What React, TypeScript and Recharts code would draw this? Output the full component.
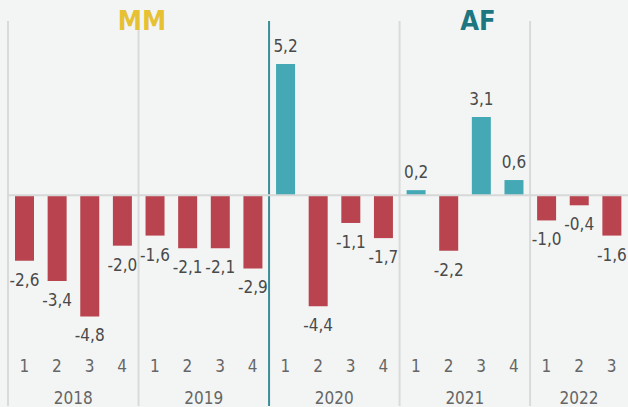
import { BarChart, Bar, XAxis, YAxis, Cell, ReferenceLine, LabelList } from "recharts";

const years = ["2018", "2018", "2018", "2018", "2019", "2019", "2019", "2019", "2020", "2020", "2020", "2020", "2021", "2021", "2021", "2021", "2022", "2022", "2022"];
const quarters = ["1", "2", "3", "4", "1", "2", "3", "4", "1", "2", "3", "4", "1", "2", "3", "4", "1", "2", "3"];
const values = [-2.6, -3.4, -4.8, -2.0, -1.6, -2.1, -2.1, -2.9, 5.2, -4.4, -1.1, -1.7, 0.2, -2.2, 3.1, 0.6, -1.0, -0.4, -1.6];

const data = values.map((v, i) => ({ key: `${years[i]}-${quarters[i]}`, year: years[i], quarter: quarters[i], value: v }));

const RED = "#b9444f";
const TEAL = "#44a9b4";
const FONT = "'DejaVu Sans', sans-serif";

const W = 628;
const H = 407;
const LEFT = 8;
const BAND = (W - LEFT) / data.length;

const fmt = (v: number) => v.toFixed(1).replace(".", ",");

const textStyle = { fontStretch: "condensed" as const };

function renderTick(props: any) {
  const { x, y, payload } = props;
  const d = data.find((r) => r.key === payload.value);
  if (!d) return <g />;
  const count = data.filter((r) => r.year === d.year).length;
  let yearLabel = null;
  if (d.quarter === "2") {
    const yx = count === 4 ? x + BAND / 2 : x;
    yearLabel = (
      <text x={yx} y={404} textAnchor="middle" fill="#666" fontSize={17} fontFamily={FONT} style={textStyle}>
        {d.year}
      </text>
    );
  }
  return (
    <g>
      <text x={x} y={372} textAnchor="middle" fill="#666" fontSize={17} fontFamily={FONT} style={textStyle}>
        {d.quarter}
      </text>
      {yearLabel}
    </g>
  );
}

function ValueLabel(props: any) {
  const { x, y, width, height, value } = props;
  const top = Math.min(y, y + height);
  const bottom = Math.max(y, y + height);
  const cx = x + width / 2;
  const ty = value >= 0 ? top - 12 : bottom + 25;
  return (
    <text x={cx} y={ty} textAnchor="middle" fill="#4a4a4a" fontSize={17} fontFamily={FONT} style={textStyle}>
      {fmt(value)}
    </text>
  );
}

export default function App() {
  return (
    <div style={{ position: "relative", width: W, height: H, background: "#f3f5f4" }}>
      <style>{`body{margin:0;background:#f3f5f4}`}</style>
      <BarChart width={W} height={H} data={data} margin={{ top: 21, right: 0, left: LEFT, bottom: 0 }}>
        <XAxis dataKey="key" height={1} axisLine={false} tickLine={false} interval={0} tick={renderTick} />
        <YAxis hide domain={[-8.35, 6.9]} />
        {["2018-1", "2019-1", "2021-1", "2022-1"].map((k) => (
          <ReferenceLine key={k} x={k} position="start" stroke="#d9dbda" strokeWidth={2} />
        ))}
        <ReferenceLine x="2020-1" position="start" stroke="#3b8e98" strokeWidth={2} />
        <Bar dataKey="value" barSize={19} isAnimationActive={false}>
          {data.map((d, i) => (
            <Cell key={i} fill={d.value >= 0 ? TEAL : RED} />
          ))}
          <LabelList dataKey="value" content={<ValueLabel />} />
        </Bar>
        <ReferenceLine y={0} stroke="#d6d8d7" strokeWidth={2} />
      </BarChart>
      <div style={{ position: "absolute", left: 142, top: 5, transform: "translateX(-50%)", fontFamily: FONT, fontStretch: "condensed", fontWeight: 700, fontSize: 27, color: "#e6c133", lineHeight: "32px" }}>
        MM
      </div>
      <div style={{ position: "absolute", left: 478, top: 5, transform: "translateX(-50%)", fontFamily: FONT, fontStretch: "condensed", fontWeight: 700, fontSize: 27, color: "#1c7781", lineHeight: "32px" }}>
        AF
      </div>
    </div>
  );
}
